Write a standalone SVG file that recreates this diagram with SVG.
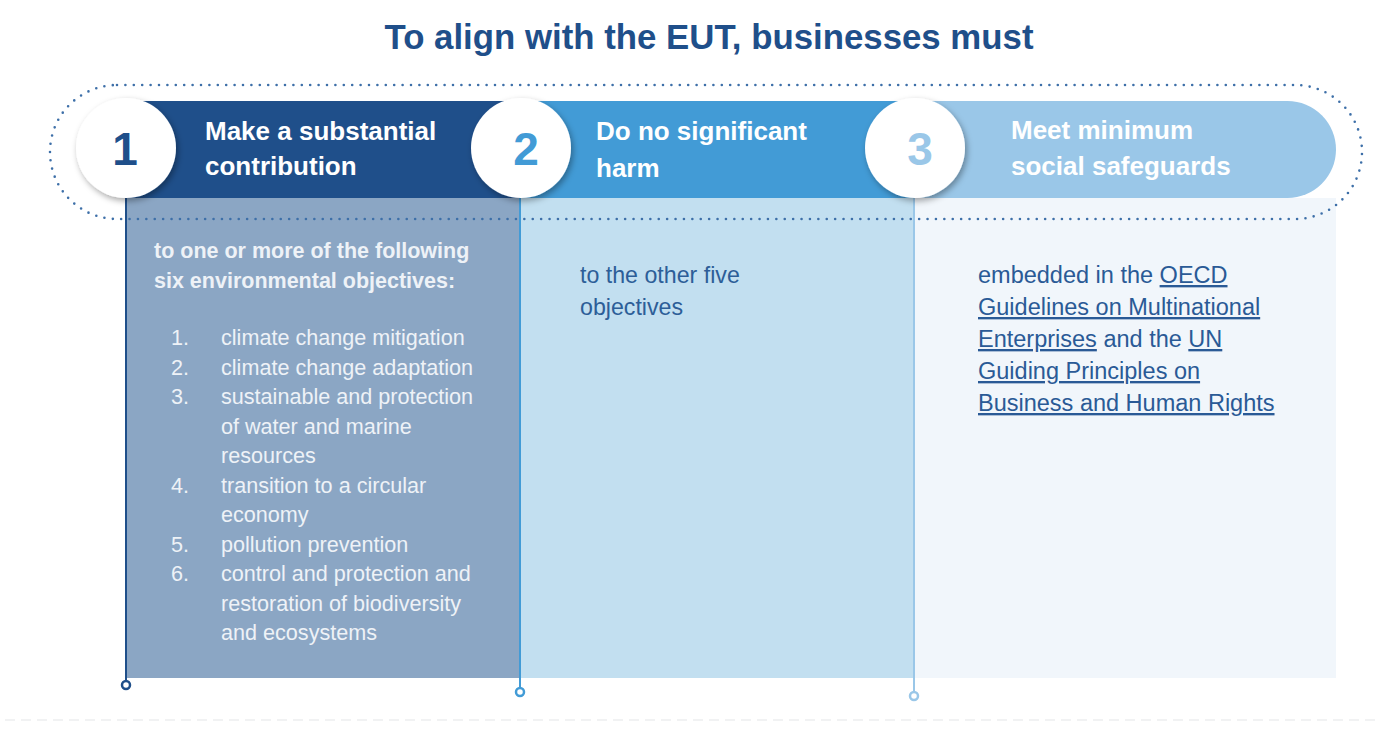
<svg xmlns="http://www.w3.org/2000/svg" width="1377" height="747" viewBox="0 0 1377 747">
<defs>
<filter id="sh" x="-30%" y="-30%" width="160%" height="160%">
<feDropShadow dx="2" dy="3" stdDeviation="3" flood-color="#000" flood-opacity="0.35"/>
</filter>
<style>
text{font-family:"Liberation Sans",Arial,Helvetica,sans-serif}
.title{font-size:34.8px;font-weight:bold;fill:#1f4f8a}
.hd{font-size:26px;font-weight:bold;fill:#ffffff}
.num{font-size:46px;font-weight:bold;text-anchor:middle}
.c1b{font-size:21.5px;font-weight:bold;fill:#eef2f7}
.c1{font-size:21.6px;fill:#eef2f7}
.c2{font-size:23.2px;fill:#2d5e98}
.c3{font-size:23.5px;fill:#2a5a96}
.u{text-decoration:underline}
.dot{fill:#ffffff;stroke-width:2.5}
</style>
</defs>
<rect width="1377" height="747" fill="#ffffff"/>
<text class="title" x="709" y="49" text-anchor="middle">To align with the EUT, businesses must</text>

<g id="column3">
<rect x="915" y="198" width="421" height="480" fill="#f1f6fb"/>
<rect x="880" y="101" width="456" height="97" rx="48.5" fill="#9ac7e8"/>
</g>
<g id="column2">
<rect x="520" y="198" width="395" height="480" fill="#c2dff0"/>
<rect x="520" y="101" width="395" height="97" fill="#429bd6"/>
</g>
<g id="column1">
<rect x="126" y="198" width="394" height="480" fill="#8ba6c4"/>
<rect x="126" y="101" width="394" height="97" fill="#1f4f8a"/>
</g>

<g id="connectors">
<rect x="50" y="85" width="1312" height="134" rx="67" fill="none" stroke="#3d6fa8" stroke-width="2.6" stroke-linecap="round" stroke-dasharray="0 8.4"/>
<line x1="126" y1="198" x2="126" y2="681" stroke="#1f4f8a" stroke-width="2"/>
<circle class="dot" cx="126" cy="685" r="4" stroke="#1f4f8a"/>
<line x1="520" y1="198" x2="520" y2="688" stroke="#429bd6" stroke-width="2"/>
<circle class="dot" cx="520" cy="692" r="4" stroke="#429bd6"/>
<line x1="914" y1="198" x2="914" y2="692" stroke="#9ac7e8" stroke-width="2"/>
<circle class="dot" cx="914" cy="696" r="4" stroke="#9ac7e8"/>
<line x1="5" y1="720" x2="1377" y2="720" stroke="#f1f2f3" stroke-width="2" stroke-dasharray="10 6"/>
</g>

<g id="node1">
<circle cx="126" cy="148" r="50" fill="#ffffff" filter="url(#sh)"/>
<text class="num" x="125" y="165" fill="#1f4f8a">1</text>
<text class="hd" x="205" y="140">Make a substantial</text>
<text class="hd" x="205" y="175">contribution</text>
<text class="c1b" x="154" y="258">to one or more of the following</text>
<text class="c1b" x="154" y="288">six environmental objectives:</text>
<g class="c1">
<text x="171" y="345">1.</text><text x="221" y="345">climate change mitigation</text>
<text x="171" y="374.5">2.</text><text x="221" y="374.5">climate change adaptation</text>
<text x="171" y="404">3.</text><text x="221" y="404">sustainable and protection</text>
<text x="221" y="433.5">of water and marine</text>
<text x="221" y="463">resources</text>
<text x="171" y="492.5">4.</text><text x="221" y="492.5">transition to a circular</text>
<text x="221" y="522">economy</text>
<text x="171" y="551.5">5.</text><text x="221" y="551.5">pollution prevention</text>
<text x="171" y="581">6.</text><text x="221" y="581">control and protection and</text>
<text x="221" y="610.5">restoration of biodiversity</text>
<text x="221" y="640">and ecosystems</text>
</g>
</g>

<g id="node2">
<circle cx="521" cy="148" r="50" fill="#ffffff" filter="url(#sh)"/>
<text class="num" x="526" y="165" fill="#429bd6">2</text>
<text class="hd" x="596" y="140">Do no significant</text>
<text class="hd" x="596" y="177">harm</text>
<text class="c2" x="580" y="283">to the other five</text>
<text class="c2" x="580" y="315">objectives</text>
</g>

<g id="node3">
<circle cx="915" cy="148" r="50" fill="#ffffff" filter="url(#sh)"/>
<text class="num" x="920" y="165" fill="#9ac7e8">3</text>
<text class="hd" x="1011" y="139">Meet minimum</text>
<text class="hd" x="1011" y="175">social safeguards</text>
<text class="c3" x="978" y="283">embedded in the <tspan class="u">OECD</tspan></text>
<text class="c3 u" x="978" y="315">Guidelines on Multinational</text>
<text class="c3" x="978" y="347"><tspan class="u">Enterprises</tspan> and the <tspan class="u">UN</tspan></text>
<text class="c3 u" x="978" y="379">Guiding Principles on</text>
<text class="c3 u" x="978" y="411">Business and Human Rights</text>
</g>
</svg>
